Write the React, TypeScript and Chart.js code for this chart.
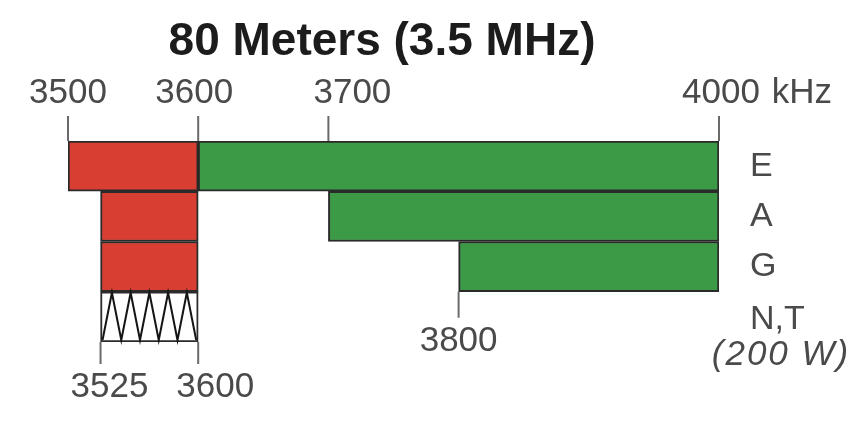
import { useEffect, useRef } from 'react';
import { Chart, registerables } from 'chart.js';

Chart.register(...registerables);

// ---- data ----
const chartTitle = '80 Meters (3.5 MHz)';
const rowLabels = ['E', 'A', 'G', 'N,T'];
const rowNote = '(200 W)';
const cwBands: ([number, number] | null)[] = [[3500, 3600], [3525, 3600], [3525, 3600], null];
const phoneBands: ([number, number] | null)[] = [[3600, 4000], [3700, 4000], [3800, 4000], null];
const noviceBands: ([number, number] | null)[] = [null, null, null, [3525, 3600]];
const topTicks = [3500, 3600, 3700, 4000];
const unitLabel = 'kHz';
const gRowTicks = [3800];
const noviceTicks = [3525, 3600];
const freqMin = 3500;
const freqMax = 4000;

// ---- styles ----
const RED = 'rgb(216, 62, 50)';
const GREEN = 'rgb(60, 154, 70)';
const BORDER = '#2a2a2a';
const TICK_COLOR = '#6a6a6a';
const TEXT_COLOR = '#4a4a4a';
const FONT = "'Liberation Sans', Arial, sans-serif";
const topLabelShift: Record<number, number> = { 3500: 0, 3600: -4, 3700: 24, 4000: 2 };
const noviceLabelShift: Record<number, number> = { 3525: 9, 3600: 17 };

const annotPlugin = {
  id: 'bandAnnot',
  afterDatasetsDraw(chart: any) {
    const ctx: CanvasRenderingContext2D = chart.ctx;
    const xs = chart.scales.x;
    const area = chart.chartArea;

    // zigzag hatch for novice/tech segment
    const nMeta = chart.getDatasetMeta(2);
    nMeta.data.forEach((el: any, i: number) => {
      if (!noviceBands[i]) return;
      const p = el.getProps(['x', 'y', 'base', 'height'], true);
      const left = Math.min(p.x, p.base) + 2;
      const right = Math.max(p.x, p.base) - 2;
      const top = p.y - p.height / 2 + 1;
      const bottom = p.y + p.height / 2 - 2;
      const periods = 5;
      const w = (right - left) / periods;
      ctx.save();
      ctx.beginPath();
      ctx.moveTo(left, bottom);
      for (let k = 0; k < periods; k++) {
        ctx.lineTo(left + w * (k + 0.5), top);
        ctx.lineTo(left + w * (k + 1), bottom);
      }
      ctx.strokeStyle = '#151515';
      ctx.lineWidth = 2;
      ctx.lineJoin = 'miter';
      ctx.stroke();
      ctx.restore();
    });

    ctx.save();
    // title
    ctx.fillStyle = '#1c1c1c';
    ctx.font = `bold 46px ${FONT}`;
    ctx.textAlign = 'center';
    ctx.textBaseline = 'middle';
    ctx.fillText(chartTitle, 382, 42);

    ctx.strokeStyle = TICK_COLOR;
    ctx.lineWidth = 2;
    ctx.fillStyle = TEXT_COLOR;
    ctx.font = `35px ${FONT}`;

    // top ticks
    topTicks.forEach((v) => {
      const px = xs.getPixelForValue(v);
      ctx.beginPath();
      ctx.moveTo(px, area.top - 25);
      ctx.lineTo(px, area.top);
      ctx.stroke();
      const lx = px + (topLabelShift[v] || 0);
      ctx.textAlign = 'center';
      ctx.fillText(String(v), lx, area.top - 48);
      if (v === freqMax) {
        const w = ctx.measureText(String(v)).width;
        ctx.textAlign = 'left';
        ctx.fillText(' ' + unitLabel, lx + w / 2 + 2, area.top - 48);
      }
    });

    // ticks under G row
    const gEl = chart.getDatasetMeta(1).data[2];
    const gp = gEl.getProps(['y', 'height'], true);
    const gBottom = gp.y + gp.height / 2;
    gRowTicks.forEach((v) => {
      const px = xs.getPixelForValue(v);
      ctx.beginPath();
      ctx.moveTo(px, gBottom);
      ctx.lineTo(px, gBottom + 26);
      ctx.stroke();
      ctx.textAlign = 'center';
      ctx.fillText(String(v), px, gBottom + 50);
    });

    // ticks under novice row
    const nEl = chart.getDatasetMeta(2).data[3];
    const np = nEl.getProps(['y', 'height'], true);
    const nBottom = np.y + np.height / 2;
    noviceTicks.forEach((v) => {
      const px = xs.getPixelForValue(v);
      ctx.beginPath();
      ctx.moveTo(px, nBottom);
      ctx.lineTo(px, nBottom + 22);
      ctx.stroke();
      ctx.textAlign = 'center';
      ctx.fillText(String(v), px + (noviceLabelShift[v] || 0), nBottom + 45);
    });

    // row labels
    const ys = chart.scales.y;
    ctx.font = `34px ${FONT}`;
    ctx.textAlign = 'left';
    rowLabels.forEach((lab, i) => {
      const py = ys.getPixelForValue(i);
      const dy = i === rowLabels.length - 1 ? 3 : 0;
      ctx.fillText(lab, area.right + 31, py + dy);
    });
    const lastY = ys.getPixelForValue(rowLabels.length - 1);
    ctx.font = `italic 35px ${FONT}`;
    ctx.textAlign = 'center';
    (ctx as any).letterSpacing = '2px';
    ctx.fillText(rowNote, area.right + 62, lastY + 38);
    (ctx as any).letterSpacing = '0px';
    ctx.restore();
  },
};

export default function App() {
  const ref = useRef<HTMLCanvasElement>(null);
  useEffect(() => {
    if (!ref.current) return;
    const common = {
      borderColor: BORDER,
      borderWidth: 2,
      borderSkipped: false,
      barPercentage: 1,
      categoryPercentage: 1,
    };
    const chart = new Chart(ref.current, {
      type: 'bar',
      data: {
        labels: rowLabels,
        datasets: [
          { label: 'CW/RTTY/Data', data: cwBands as any, backgroundColor: RED, ...common },
          { label: 'Phone/Image', data: phoneBands as any, backgroundColor: GREEN, ...common },
          { label: 'CW only', data: noviceBands as any, backgroundColor: '#ffffff', ...common },
        ],
      },
      options: {
        indexAxis: 'y',
        animation: false,
        responsive: false,
        maintainAspectRatio: false,
        layout: { padding: { left: 68, right: 867 - 719, top: 141, bottom: 430 - 342 } },
        scales: {
          x: { type: 'linear', min: freqMin, max: freqMax, display: false },
          y: { type: 'category', stacked: true, display: false },
        },
        plugins: {
          legend: { display: false },
          tooltip: { enabled: false },
          title: { display: false },
        },
      },
      plugins: [annotPlugin],
    } as any);
    return () => chart.destroy();
  }, []);
  return (
    <div style={{ position: 'fixed', left: 0, top: 0, width: 867, height: 430, background: '#fff' }}>
      <canvas ref={ref} width={867} height={430} />
    </div>
  );
}
